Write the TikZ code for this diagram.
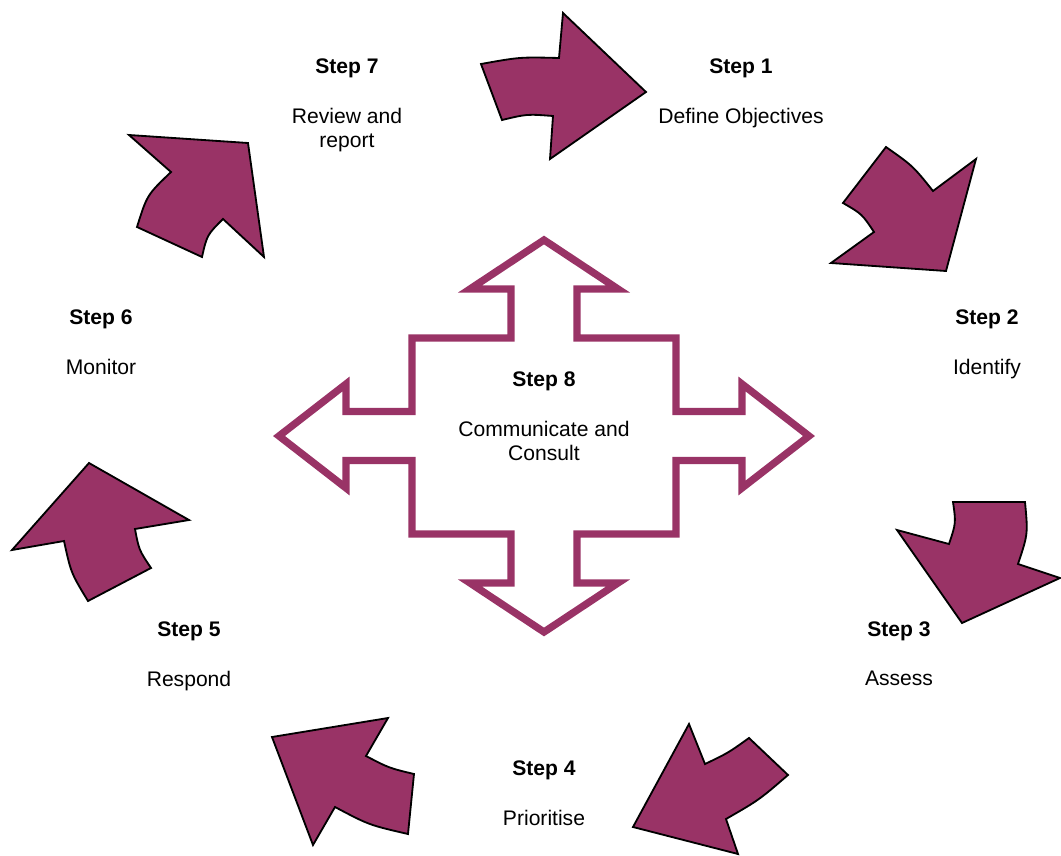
\documentclass[tikz,border=0pt]{standalone}
\usepackage{fontspec}
\setmainfont{Liberation Sans}
\usepackage{xcolor}
\usetikzlibrary{positioning}
\definecolor{plum}{RGB}{153,51,102}
\tikzset{
        blockarrow/.style = {fill=plum, draw=black, line width=1.3pt, line join=miter},
        crossarrow/.style = {draw=plum, line width=5.2pt, line join=miter},
        steptitle/.style = {font=\fontsize{15}{17}\selectfont\bfseries, inner sep=0pt, anchor=base},
        steptext/.style = {font=\fontsize{15}{17}\selectfont, inner sep=0pt, align=center},
    }

\begin{document}
\begin{tikzpicture}[x=0.025cm, y=-0.025cm, node distance=21pt]
		\useasboundingbox (0,0) rectangle (1061,856);
		\draw[blockarrow] (481,64) .. controls (520,57) .. (559,58) -- (563,13) -- (646,92) -- (550,159) -- (553,116) .. controls (527,114) .. (502,120) -- cycle;
		\draw[blockarrow] (886,147) .. controls (913,166) .. (933,191) -- (976,159) -- (946,271) -- (831,263) -- (874,232) .. controls (862,214) .. (843,203) -- cycle;
		\draw[blockarrow] (953,502) -- (1025,502) .. controls (1028,534) .. (1018,564) -- (1060,578) -- (962,623) -- (897,530) -- (949,544) .. controls (956,523) .. (953,502) -- cycle;
		\draw[blockarrow] (689,724) -- (705,764) .. controls (728,753) .. (749,738) -- (788,775) .. controls (759,800) .. (726,819) -- (738,854) -- (633,827) -- cycle;
		\draw[blockarrow] (272,737) -- (388,718) -- (366,756) .. controls (389,768) .. (414,774) -- (408,834) .. controls (369,825) .. (335,807) -- (313,845) -- cycle;
		\draw[blockarrow] (89,463) -- (189,520) -- (135,529) .. controls (139,550) .. (151,568) -- (88,601) .. controls (71,573) .. (64,541) -- (12,550) -- cycle;
		\draw[blockarrow] (129,135) -- (248,143) -- (264,257) -- (223,219) .. controls (207,235) .. (202,257) -- (137,227) .. controls (147,195) .. (171,172) -- cycle;
		\draw[crossarrow] (544,240) -- (618,289) -- (577,289) -- (577,338) -- (676,338) -- (676,411.5) -- (742,411.5) -- (742,384) -- (809,436) -- (742,488) -- (742,460.5) -- (676,460.5) -- (676,534) -- (577,534) -- (577,583) -- (618,583) -- (544,632) -- (470,583) -- (511,583) -- (511,534) -- (412,534) -- (412,460.5) -- (346,460.5) -- (346,488) -- (279,436) -- (346,384) -- (346,411.5) -- (412,411.5) -- (412,338) -- (511,338) -- (511,289) -- (470,289) -- cycle;
		\node[steptitle]    (StepOne)   at (741,73.5)    {Step 1};
		\node[steptext]     (DefineObjectives)[below=of StepOne]     {Define Objectives};
		\node[steptitle]    (StepTwo)   at (987,324.5)   {Step 2};
		\node[steptext]     (Identify)[below=of StepTwo]     {Identify};
		\node[steptitle]    (StepThree) at (899,636.5)   {Step 3};
		\node[steptext]     (Assess)[below=of StepThree]     {Assess};
		\node[steptitle]    (StepFour)  at (544,775.5)   {Step 4};
		\node[steptext]     (Prioritise)[below=of StepFour]     {Prioritise};
		\node[steptitle]    (StepFive)  at (189,636.5)   {Step 5};
		\node[steptext]     (Respond)[below=of StepFive]     {Respond};
		\node[steptitle]    (StepSix)   at (101,324.5)   {Step 6};
		\node[steptext]     (Monitor)[below=of StepSix]     {Monitor};
		\node[steptitle]    (StepSeven) at (347,73.5)    {Step 7};
		\node[steptext]     (ReviewReport)[below=of StepSeven]     {Review and\\report};
		\node[steptitle]    (StepEight) at (544,386.5)   {Step 8};
		\node[steptext]     (CommunicateConsult)[below=of StepEight]     {Communicate and\\Consult};
\end{tikzpicture}
\end{document}
